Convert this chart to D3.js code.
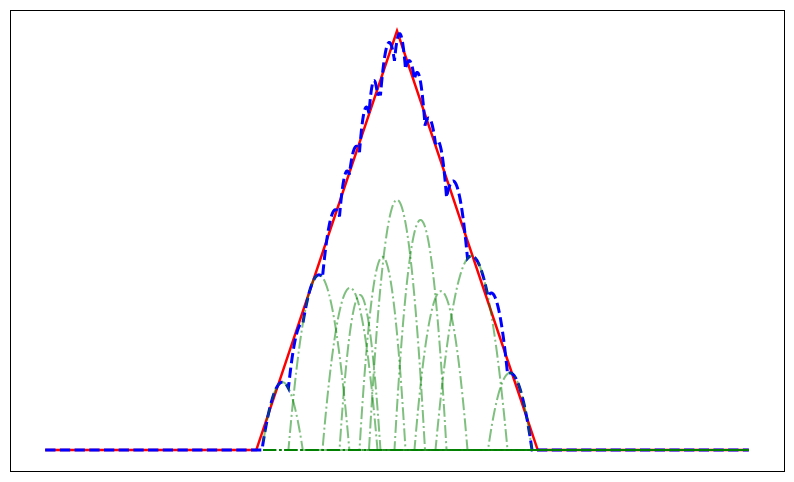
<!DOCTYPE html>
<html>
<head>
<meta charset="utf-8">
<script src="https://cdn.jsdelivr.net/npm/d3@7"></script>
<style>
  html, body { margin: 0; padding: 0; background: #fff; }
  svg { display: block; }
</style>
</head>
<body>
<svg id="chart" width="794" height="482"></svg>
<script>
// target: triangle
const triangleX = [-5, -2, 0, 2, 5];
const triangleY = [0, 0, 1, 0, 0];

// green bumps (center, height, half width)
const bumpCenter = [-1.629, -1.110, -0.668, -0.526, -0.206, 0.000, 0.334, 0.625, 1.059, 1.606];
const bumpHeight = [0.162, 0.418, 0.387, 0.370, 0.461, 0.597, 0.549, 0.379, 0.463, 0.184];
const bumpHalfWidth = [0.290, 0.433, 0.391, 0.291, 0.327, 0.398, 0.370, 0.377, 0.512, 0.313];

const xStart = -5, xEnd = 5, bumpStart = -1.9;

// set the dimensions and margins of the graph
var margin = { top: 10, right: 10, bottom: 11, left: 10 },
  width = 794 - margin.left - margin.right,
  height = 482 - margin.top - margin.bottom;

var svg = d3.select("#chart")
  .append("g")
  .attr("transform", "translate(" + margin.left + "," + margin.top + ")");

function bump(i, x) {
  var u = (x - bumpCenter[i]) / bumpHalfWidth[i];
  if (Math.abs(u) >= 1) return 0;
  return bumpHeight[i] * (1 - u * u);
}

// sample grid for the curves
var xs = d3.range(xStart, xEnd + 1e-9, 0.002);
xs = xs.concat(bumpCenter.map((c, i) => c - bumpHalfWidth[i]), bumpCenter.map((c, i) => c + bumpHalfWidth[i]));
xs.sort((a, b) => a - b);

var bumps = bumpCenter.map((c, i) =>
  xs.filter((x) => x >= bumpStart).map((x) => [x, bump(i, x)])
);
// blue dashed = sum of the bumps
var total = xs.map((x) => [x, d3.sum(bumpCenter, (c, i) => bump(i, x))]);
var tri = triangleX.map((x, i) => [x, triangleY[i]]);

var yMax = Math.max(d3.max(triangleY), d3.max(total, (d) => d[1]));
var xPad = (xEnd - xStart) * 0.05, yPad = yMax * 0.05;

const xScale = d3.scaleLinear().domain([xStart - xPad, xEnd + xPad]).range([0, width]);
const yScale = d3.scaleLinear().domain([-yPad, yMax + yPad]).range([height, 0]);

const line = d3.line()
  .x((d) => xScale(d[0]))
  .y((d) => yScale(d[1]));

svg.append("path")
  .attr("d", line(tri))
  .attr("fill", "none")
  .attr("stroke", "red")
  .attr("stroke-width", 2.5);

svg.append("path")
  .attr("d", line(total))
  .attr("fill", "none")
  .attr("stroke", "blue")
  .attr("stroke-width", 3)
  .attr("stroke-dasharray", "10.3,4.4");

svg.append("g")
  .selectAll("path")
  .data(bumps)
  .join("path")
  .attr("d", (d) => line(d))
  .attr("fill", "none")
  .attr("stroke", "green")
  .attr("stroke-opacity", 0.5)
  .attr("stroke-width", 2)
  .attr("stroke-dasharray", "12.8,3.2,2,3.2");

// frame
svg.append("rect")
  .attr("x", 0.5)
  .attr("y", 0.5)
  .attr("width", width)
  .attr("height", height)
  .attr("fill", "none")
  .attr("stroke", "black")
  .attr("stroke-width", 1);
</script>
</body>
</html>
